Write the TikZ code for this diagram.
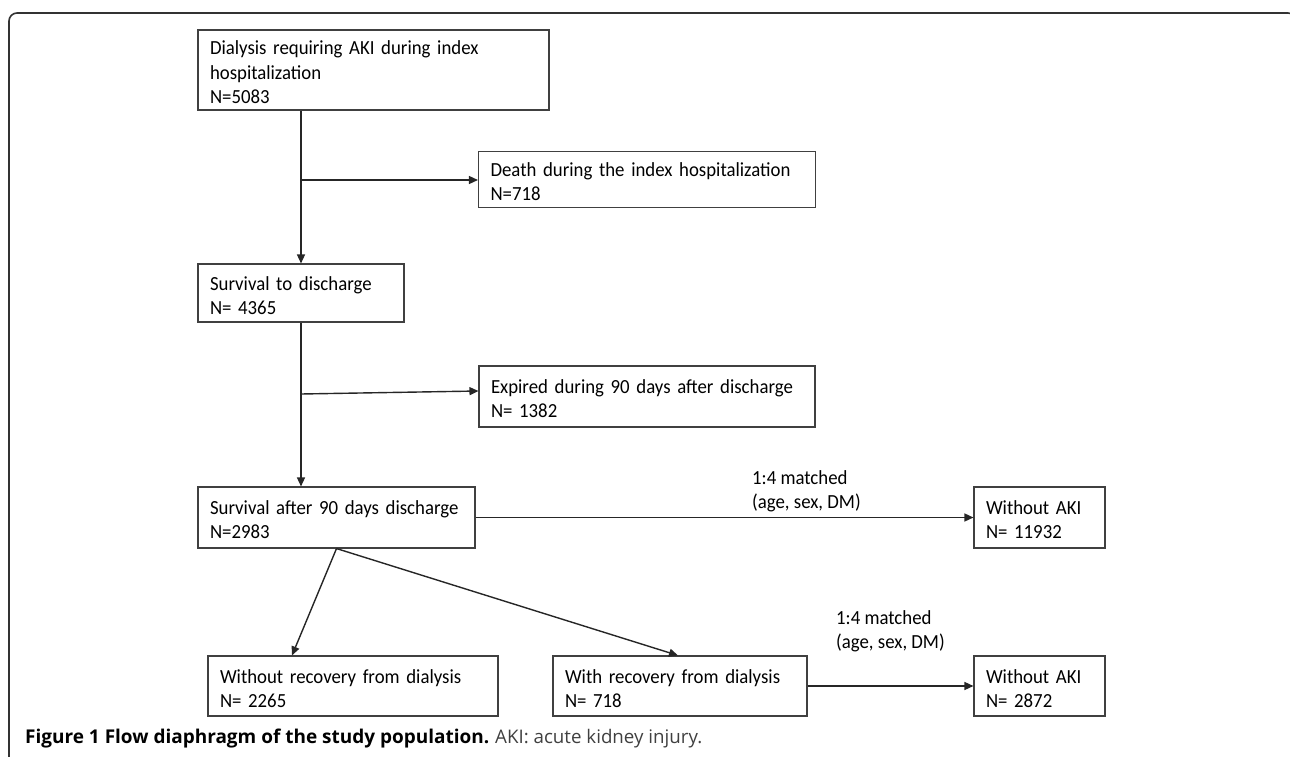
\documentclass[tikz,border=0pt]{standalone}
\usepackage{fontspec}
\setmainfont{Carlito}[FakeStretch=0.94]
\newfontfamily\capfont{Open Sans}
\usetikzlibrary{arrows.meta}
\hyphenpenalty=10000
\exhyphenpenalty=10000
\newcommand\fstrut{\rule{0pt}{18.6pt}}
\begin{document}
\begin{tikzpicture}[x=1pt,y=-1pt,
  box/.style={draw=black!75, line width=1.1pt, align=left, inner xsep=12pt, inner ysep=0pt,
     font=\fontsize{20}{24.3}\selectfont, text=black, anchor=center},
  lbl/.style={align=left, inner sep=0pt, font=\fontsize{20}{24.3}\selectfont, text=black, anchor=west},
  arr/.style={draw=black!85, line width=1.4pt, -{Triangle[length=9pt,width=8pt]}}]
\useasboundingbox (0,0) rectangle (1290,757);
% frame
\draw[black!80, line width=1.6pt, rounded corners=8pt] (9,760) -- (9,13) -- (1296,13) -- (1296,760);
% boxes
\node[box, text width=327pt, minimum height=80pt] (b1) at (373.5,70) {\fstrut Dialysis requiring AKI during index\\hospitalization\\N=5083};
\node[box, text width=313pt, minimum height=56pt] (b2) at (647,179.5) {\fstrut Death during the index hospitalization\\N=718};
\node[box, text width=182pt, minimum height=58pt] (b3) at (301,293) {\fstrut Survival to discharge\\N= 4365};
\node[box, text width=312pt, minimum height=61pt] (b4) at (647,396.5) {\fstrut Expired during 90 days after discharge\\N= 1382};
\node[box, text width=253pt, minimum height=61pt] (b5) at (336.5,517.5) {\fstrut Survival after 90 days discharge\\N=2983};
\node[box, text width=107pt, minimum height=61pt] (b6) at (1039.5,517.5) {\fstrut Without AKI\\N= 11932};
\node[box, text width=266pt, minimum height=60pt] (b7) at (353,686) {\fstrut Without recovery from dialysis\\N= 2265};
\node[box, text width=230pt, minimum height=60pt] (b8) at (680,686) {\fstrut With recovery from dialysis\\N= 718};
\node[box, text width=107pt, minimum height=60pt] (b9) at (1039.5,686) {\fstrut Without AKI\\N= 2872};
% labels
\node[lbl] (l1) at (752,491) {1:4 matched\\(age, sex, DM)};
\node[lbl] (l2) at (836,631) {1:4 matched\\(age, sex, DM)};
% connectors
\coordinate (j1) at (301,180);
\coordinate (j2) at (301,394);
\draw[arr] (b1.south -| j1) -- (b3.north);
\draw[arr] (j1) -- (b2.west |- j1);
\draw[arr] (b3.south) -- (b3.south |- b5.north);
\draw[arr] (j2) -- ([yshift=3pt]b4.west |- j2);
\draw[arr] (b5.east) -- (b6.west);
\draw[arr] (b5.south) -- ([xshift=-61pt]b7.north);
\draw[arr] (b5.south) -- ([xshift=-2pt]b8.north);
\draw[arr] (b8.east) -- (b9.west);
% caption
\node[anchor=base west, inner sep=0pt, font=\capfont] (cap) at (25,743)
  {\resizebox{464pt}{!}{\textbf{Figure 1 Flow diaphragm of the study population.}}};
\node[anchor=base west, inner sep=0pt, font=\capfont, text=black!75] (cap2) at (495,743)
  {\resizebox{207pt}{!}{AKI: acute kidney injury.}};
\end{tikzpicture}
\end{document}
